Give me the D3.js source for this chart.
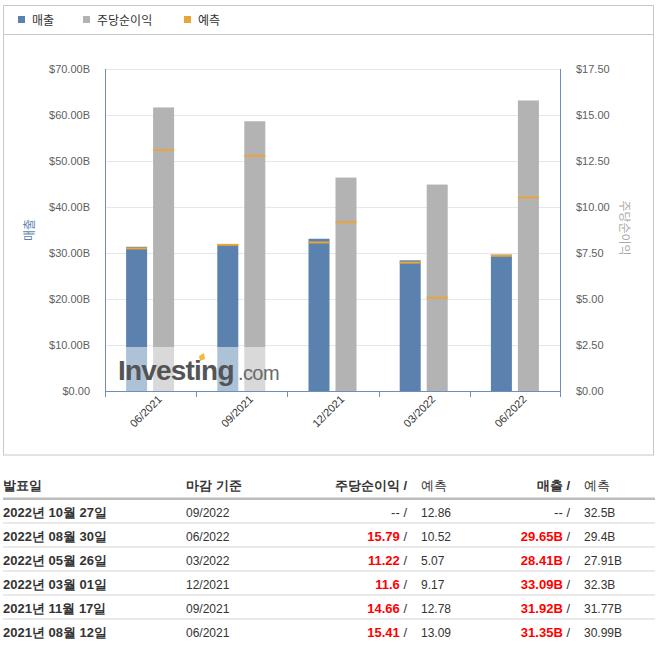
<!DOCTYPE html>
<html>
<head>
<meta charset="utf-8">
<script src="https://cdn.jsdelivr.net/npm/d3@7"></script>
<style>
  body { margin: 0; background: #fff; }
  svg text { font-family: Arial, "Liberation Sans", sans-serif; }
  .kr { font-family: "Noto Sans CJK KR", "Noto Sans", sans-serif; }
</style>
</head>
<body>
<div id="chart"></div>
<script>
// chart data (periods in chart order)
const periods = ["06/2021", "09/2021", "12/2021", "03/2022", "06/2022"];
const revenue = [31.35, 31.92, 33.09, 28.41, 29.65];
const revenueForecast = [30.99, 31.77, 32.3, 27.91, 29.4];
const eps = [15.41, 14.66, 11.6, 11.22, 15.79];
const epsForecast = [13.09, 12.78, 9.17, 5.07, 10.52];
const revTicks = [0, 10, 20, 30, 40, 50, 60, 70];
const epsTicks = [0, 2.5, 5, 7.5, 10, 12.5, 15, 17.5];

// table data (newest first)
const releaseDates = ["2022년 10월 27일", "2022년 08월 30일", "2022년 05월 26일", "2022년 03월 01일", "2021년 11월 17일", "2021년 08월 12일"];
const periodEnding = ["09/2022", "06/2022", "03/2022", "12/2021", "09/2021", "06/2021"];
const epsActualText = ["--", "15.79", "11.22", "11.6", "14.66", "15.41"];
const epsForecastText = ["12.86", "10.52", "5.07", "9.17", "12.78", "13.09"];
const revActualText = ["--", "29.65B", "28.41B", "33.09B", "31.92B", "31.35B"];
const revForecastText = ["32.5B", "29.4B", "27.91B", "32.3B", "31.77B", "30.99B"];

const W = 662, H = 649;
const plot = { left: 105, right: 561, top: 69, bottom: 391 };
const blue = "#5b82ae", grey = "#b3b3b3", orange = "#eaa53a", axisBlue = "#6d8fbb";

const svg = d3.select("#chart").append("svg")
  .attr("width", W).attr("height", H);

// outer box + legend strip
svg.append("rect").attr("x", 3.5).attr("y", 5.5).attr("width", 650).attr("height", 449.5)
  .attr("fill", "#fff").attr("stroke", "#c8c8c8");
svg.append("line").attr("x1", 3.5).attr("x2", 653.5).attr("y1", 34.5).attr("y2", 34.5)
  .attr("stroke", "#c8c8c8");

const legend = [
  { label: "매출", color: blue, x: 18 },
  { label: "주당순이익", color: grey, x: 83 },
  { label: "예측", color: orange, x: 184 }
];
legend.forEach(l => {
  svg.append("rect").attr("x", l.x).attr("y", 16).attr("width", 7).attr("height", 7).attr("fill", l.color);
  svg.append("text").attr("class", "kr").attr("x", l.x + 14).attr("y", 24.5)
    .attr("font-size", 12).attr("fill", "#333").text(l.label);
});

// scales
const x = d3.scaleBand().domain(periods).range([plot.left, plot.right]);
const yRev = d3.scaleLinear().domain([0, 70]).range([plot.bottom, plot.top]);
const yEps = d3.scaleLinear().domain([0, 17.5]).range([plot.bottom, plot.top]);

// gridlines
svg.append("g").selectAll("line").data(revTicks).join("line")
  .attr("x1", plot.left).attr("x2", plot.right)
  .attr("y1", d => Math.round(yRev(d)) + 0.5).attr("y2", d => Math.round(yRev(d)) + 0.5)
  .attr("stroke", "#e6e6ee");

// left axis labels
svg.append("g").selectAll("text").data(revTicks).join("text")
  .attr("x", 90).attr("y", d => yRev(d) + 4)
  .attr("text-anchor", "end").attr("font-size", 11).attr("fill", "#606060")
  .text(d => "$" + d3.format(".2f")(d) + (d === 0 ? "" : "B"));

// right axis labels
svg.append("g").selectAll("text").data(epsTicks).join("text")
  .attr("x", 576).attr("y", d => yEps(d) + 4)
  .attr("font-size", 11).attr("fill", "#606060")
  .text(d => "$" + d3.format(".2f")(d));

// axis titles
svg.append("text").attr("class", "kr")
  .attr("transform", `translate(34, ${(plot.top + plot.bottom) / 2}) rotate(-90)`)
  .attr("text-anchor", "middle").attr("font-size", 12).attr("fill", blue).text("매출");
svg.append("text").attr("class", "kr")
  .attr("transform", `translate(620, ${(plot.top + plot.bottom) / 2 - 2}) rotate(90)`)
  .attr("text-anchor", "middle").attr("font-size", 12).attr("fill", "#aaa").text("주당순이익");

// bars
const barW = 21;
const bars = svg.append("g");
periods.forEach((p, i) => {
  const c = x(p) + x.bandwidth() / 2;
  bars.append("rect").attr("x", c - 24.5).attr("width", barW)
    .attr("y", yRev(revenue[i])).attr("height", plot.bottom - yRev(revenue[i]))
    .attr("fill", blue);
  bars.append("rect").attr("x", c + 2.5).attr("width", barW)
    .attr("y", yEps(eps[i])).attr("height", plot.bottom - yEps(eps[i]))
    .attr("fill", grey);
  bars.append("rect").attr("x", c - 24.5).attr("width", barW)
    .attr("y", yRev(revenueForecast[i]) - 1).attr("height", 2).attr("fill", orange);
  bars.append("rect").attr("x", c + 2.5).attr("width", barW)
    .attr("y", yEps(epsForecast[i]) - 1).attr("height", 2).attr("fill", orange);
});

// axis lines
const ax = svg.append("g").attr("stroke", axisBlue).attr("fill", "none");
ax.append("line").attr("x1", plot.left + 0.5).attr("x2", plot.left + 0.5).attr("y1", plot.top).attr("y2", plot.bottom);
ax.append("line").attr("x1", plot.right - 0.5).attr("x2", plot.right - 0.5).attr("y1", plot.top).attr("y2", plot.bottom);
ax.append("line").attr("x1", plot.left).attr("x2", plot.right).attr("y1", plot.bottom + 0.5).attr("y2", plot.bottom + 0.5);
const bounds = periods.map(p => x(p)).concat([plot.right - 1]);
ax.selectAll(".tk").data(bounds).join("line")
  .attr("x1", d => Math.round(d) + 0.5).attr("x2", d => Math.round(d) + 0.5)
  .attr("y1", plot.bottom).attr("y2", plot.bottom + 6);

// x labels
svg.append("g").selectAll("text").data(periods).join("text")
  .attr("transform", d => `translate(${x(d) + x.bandwidth() / 2 + 12}, 400) rotate(-45)`)
  .attr("text-anchor", "end").attr("font-size", 11).attr("fill", "#333").text(d => d);

// watermark
const wm = svg.append("g");
wm.append("rect").attr("x", 118).attr("y", 347).attr("width", 163).attr("height", 44)
  .attr("fill", "#fff").attr("opacity", 0.5);
wm.append("text").attr("x", 118).attr("y", 380).attr("font-size", 28).attr("font-weight", "bold")
  .attr("letter-spacing", -0.8).attr("fill", "#545454").text("Investing");
wm.append("text").attr("x", 238).attr("y", 380).attr("font-size", 20)
  .attr("letter-spacing", -0.6).attr("fill", "#6a6a6a").text(".com");
wm.append("path").attr("d", "M199,356 L204,353 L205,359 L200,361 Z").attr("fill", "#f6b93b");

// table
const tbl = svg.append("g").attr("class", "kr");
const colDate = 3, colPeriod = 186, colEps = 407, colEpsF = 421, colRev = 570, colRevF = 584;
const headY = 490;
tbl.append("text").attr("x", colDate).attr("y", headY).attr("font-size", 13).attr("font-weight", "bold").attr("fill", "#333").text("발표일");
tbl.append("text").attr("x", colPeriod).attr("y", headY).attr("font-size", 13).attr("font-weight", "bold").attr("fill", "#333").text("마감 기준");
tbl.append("text").attr("x", colEps).attr("y", headY).attr("text-anchor", "end").attr("font-size", 13).attr("font-weight", "bold").attr("fill", "#333").text("주당순이익 /");
tbl.append("text").attr("x", colEpsF).attr("y", headY).attr("font-size", 13).attr("fill", "#333").text("예측");
tbl.append("text").attr("x", colRev).attr("y", headY).attr("text-anchor", "end").attr("font-size", 13).attr("font-weight", "bold").attr("fill", "#333").text("매출 /");
tbl.append("text").attr("x", colRevF).attr("y", headY).attr("font-size", 13).attr("fill", "#333").text("예측");
tbl.append("rect").attr("x", 3).attr("y", 497.5).attr("width", 652).attr("height", 2.5).attr("fill", "#bdbdbd");

const rowH = 24, row0 = 500;
releaseDates.forEach((d, i) => {
  const base = row0 + i * rowH + 16.5;
  if (i < releaseDates.length - 1) {
    tbl.append("rect").attr("x", 3).attr("y", row0 + (i + 1) * rowH - 1.5).attr("width", 652).attr("height", 1).attr("fill", "#d6d6d6");
  }
  tbl.append("text").attr("x", colDate).attr("y", base).attr("font-size", 13).attr("font-weight", "bold").attr("fill", "#333").text(d);
  tbl.append("text").attr("x", colPeriod).attr("y", base).attr("font-size", 12).attr("fill", "#333").text(periodEnding[i]);
  const hasE = epsActualText[i] !== "--";
  const e = tbl.append("text").attr("x", colEps).attr("y", base).attr("text-anchor", "end").attr("font-size", 13);
  e.append("tspan").attr("font-weight", hasE ? "bold" : "normal").attr("fill", hasE ? "#f00" : "#333").text(epsActualText[i]);
  e.append("tspan").attr("fill", "#333").text(" /");
  tbl.append("text").attr("x", colEpsF).attr("y", base).attr("font-size", 12).attr("fill", "#333").text(epsForecastText[i]);
  const hasR = revActualText[i] !== "--";
  const r = tbl.append("text").attr("x", colRev).attr("y", base).attr("text-anchor", "end").attr("font-size", 13);
  r.append("tspan").attr("font-weight", hasR ? "bold" : "normal").attr("fill", hasR ? "#f00" : "#333").text(revActualText[i]);
  r.append("tspan").attr("fill", "#333").text(" /");
  tbl.append("text").attr("x", colRevF).attr("y", base).attr("font-size", 12).attr("fill", "#333").text(revForecastText[i]);
});
</script>
</body>
</html>
